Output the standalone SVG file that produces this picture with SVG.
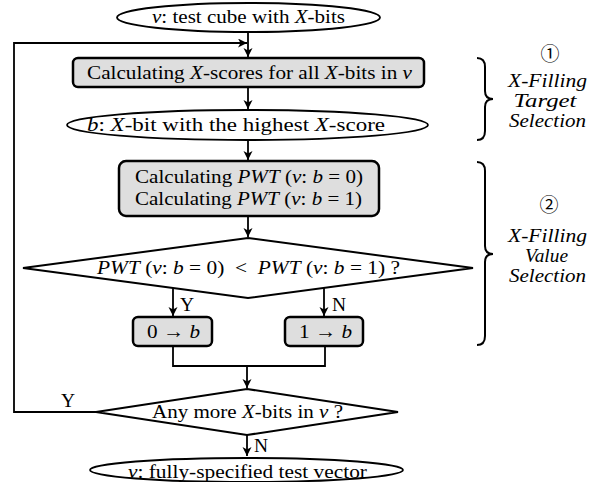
<svg xmlns="http://www.w3.org/2000/svg" width="616" height="482" viewBox="0 0 616 482">
<style>
.t{font-family:"Liberation Serif","Times New Roman",serif;font-size:19.5px;fill:#000}
.i{font-style:italic}
.lab{font-family:"Liberation Serif","Times New Roman",serif;font-size:19px;font-style:italic;fill:#000}
.c{font-family:"Noto Sans CJK JP","DejaVu Sans",sans-serif;font-size:19px;fill:#000}
.box{fill:#dedede;stroke:#000;stroke-width:2.5}
.term{fill:#fff;stroke:#000;stroke-width:1.8}
.dia{fill:#fff;stroke:#000;stroke-width:2}
.ln{fill:none;stroke:#000;stroke-width:1.8}
.br{fill:none;stroke:#000;stroke-width:2}
</style>
<defs>
<marker id="ah" markerUnits="userSpaceOnUse" markerWidth="10" markerHeight="10" refX="9" refY="4.5" orient="auto">
<path d="M0,0 L9,4.5 L0,9 L2.5,4.5 Z" fill="#000"/>
</marker>
</defs>

<g id="connectors">
<line class="ln" x1="248" y1="32" x2="248" y2="57" marker-end="url(#ah)"/>
<polyline class="ln" points="96,412 14,412 14,43 247,43" marker-end="url(#ah)"/>
<line class="ln" x1="248" y1="87" x2="248" y2="109" marker-end="url(#ah)"/>
<line class="ln" x1="248" y1="140" x2="248" y2="160" marker-end="url(#ah)"/>
<line class="ln" x1="248" y1="216" x2="248" y2="237" marker-end="url(#ah)"/>
<line class="ln" x1="173" y1="288" x2="173" y2="316" marker-end="url(#ah)"/>
<line class="ln" x1="324" y1="288" x2="324" y2="316" marker-end="url(#ah)"/>
<polyline class="ln" points="173,346 173,366 325,366 325,346"/>
<line class="ln" x1="247" y1="366" x2="247" y2="388" marker-end="url(#ah)"/>
<line class="ln" x1="247" y1="435" x2="247" y2="456" marker-end="url(#ah)"/>
<text class="t" x="180" y="311">Y</text>
<text class="t" x="332" y="311">N</text>
<text class="t" x="61" y="407">Y</text>
<text class="t" x="254" y="452">N</text>
</g>

<g id="start">
<ellipse class="term" cx="248.5" cy="17.5" rx="131.5" ry="14.5"/>
<text class="t" x="152" y="23" textLength="193" lengthAdjust="spacingAndGlyphs"><tspan class="i">v</tspan>: test cube with <tspan class="i">X</tspan>-bits</text>
</g>

<g id="calc-xscores">
<rect class="box" x="73" y="58" width="351" height="29" rx="5"/>
<text class="t" x="87" y="79" textLength="325" lengthAdjust="spacingAndGlyphs">Calculating <tspan class="i">X</tspan>-scores for all <tspan class="i">X</tspan>-bits in <tspan class="i">v</tspan></text>
</g>

<g id="target-bit">
<ellipse class="term" cx="247.5" cy="125" rx="180.5" ry="15"/>
<text class="t" x="87" y="131" textLength="298" lengthAdjust="spacingAndGlyphs"><tspan class="i">b</tspan>: <tspan class="i">X</tspan>-bit with the highest <tspan class="i">X</tspan>-score</text>
</g>

<g id="calc-pwt">
<rect class="box" x="119" y="161" width="260" height="55" rx="7"/>
<text class="t" x="135" y="183" textLength="228" lengthAdjust="spacingAndGlyphs">Calculating <tspan class="i">PWT</tspan> (<tspan class="i">v</tspan>: <tspan class="i">b</tspan> = 0)</text>
<text class="t" x="135" y="205" textLength="227" lengthAdjust="spacingAndGlyphs">Calculating <tspan class="i">PWT</tspan> (<tspan class="i">v</tspan>: <tspan class="i">b</tspan> = 1)</text>
</g>

<g id="compare">
<polygon class="dia" points="248,238 473,268 248,298 23,268"/>
<text class="t" x="97" y="274" textLength="303" lengthAdjust="spacingAndGlyphs" style="white-space:pre"><tspan class="i">PWT</tspan> (<tspan class="i">v</tspan>: <tspan class="i">b</tspan> = 0)  &lt;  <tspan class="i">PWT</tspan> (<tspan class="i">v</tspan>: <tspan class="i">b</tspan> = 1) ?</text>
</g>

<g id="set0">
<rect class="box" x="133" y="317" width="79" height="29" rx="5"/>
<text class="t" x="147" y="338" textLength="53" lengthAdjust="spacingAndGlyphs">0 → <tspan class="i">b</tspan></text>
</g>

<g id="set1">
<rect class="box" x="285" y="317" width="78" height="29" rx="5"/>
<text class="t" x="299" y="338" textLength="53" lengthAdjust="spacingAndGlyphs">1 → <tspan class="i">b</tspan></text>
</g>

<g id="more">
<polygon class="dia" points="247,389 398,412 247,435 96,412"/>
<text class="t" x="152" y="418" textLength="191" lengthAdjust="spacingAndGlyphs">Any more <tspan class="i">X</tspan>-bits in <tspan class="i">v</tspan> ?</text>
</g>

<g id="end">
<ellipse class="term" cx="246.5" cy="470" rx="156.5" ry="12"/>
<text class="t" x="128" y="478" textLength="239" lengthAdjust="spacingAndGlyphs"><tspan class="i">v</tspan>: fully-specified test vector</text>
</g>

<g id="phase1">
<path class="br" d="M477,58 Q485,58 485,67 L485,91 Q485,99 493,99 Q485,99 485,107 L485,131 Q485,140 477,140"/>
<text class="c" x="550" y="61" text-anchor="middle">①</text>
<text class="lab" x="547.5" y="87" text-anchor="middle" textLength="79" lengthAdjust="spacingAndGlyphs">X-Filling</text>
<text class="lab" x="545" y="107" text-anchor="middle" textLength="63" lengthAdjust="spacingAndGlyphs">Target</text>
<text class="lab" x="547.5" y="127" text-anchor="middle" textLength="77" lengthAdjust="spacingAndGlyphs">Selection</text>
</g>

<g id="phase2">
<path class="br" d="M477,162 Q485,162 485,171 L485,246 Q485,254 493,254 Q485,254 485,262 L485,336 Q485,345 477,345"/>
<text class="c" x="549" y="212" text-anchor="middle">②</text>
<text class="lab" x="547.5" y="242" text-anchor="middle" textLength="79" lengthAdjust="spacingAndGlyphs">X-Filling</text>
<text class="lab" x="546.5" y="262" text-anchor="middle" textLength="43" lengthAdjust="spacingAndGlyphs">Value</text>
<text class="lab" x="547.5" y="282" text-anchor="middle" textLength="77" lengthAdjust="spacingAndGlyphs">Selection</text>
</g>
</svg>
